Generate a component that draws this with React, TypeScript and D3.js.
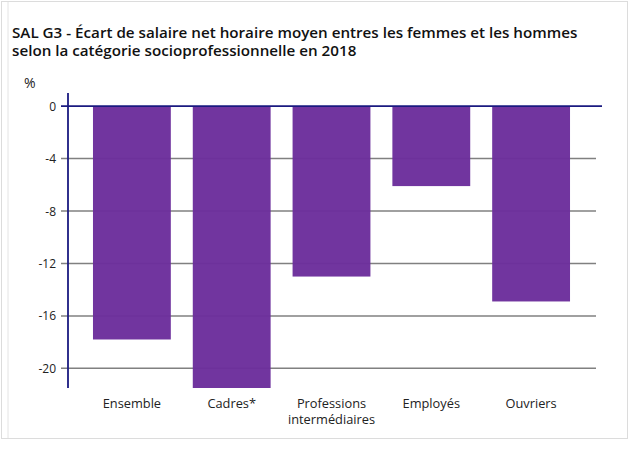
import React, { useEffect, useRef } from "react";
import * as d3 from "d3";

const categories = ["Ensemble", "Cadres*", "Professions\nintermédiaires", "Employés", "Ouvriers"];
const values = [-17.8, -21.5, -13.0, -6.1, -14.9];
const yTicks = [0, -4, -8, -12, -16, -20];
const titleLines = [
  "SAL G3 - Écart de salaire net horaire moyen entres les femmes et les hommes",
  "selon la catégorie socioprofessionnelle en 2018",
];

export default function App() {
  const svgRef = useRef<SVGSVGElement>(null);

  useEffect(() => {
    const svg = d3.select(svgRef.current);
    svg.selectAll("*").remove();

    const font = "'Open Sans', 'Noto Sans', sans-serif";

    // frame
    svg.append("rect")
      .attr("x", 1.5).attr("y", 1.5)
      .attr("width", 626).attr("height", 437)
      .attr("fill", "none")
      .attr("stroke", "#dcdcdc");
    svg.append("line")
      .attr("x1", 8).attr("x2", 8).attr("y1", 2).attr("y2", 438)
      .attr("stroke", "#e4e4e4");

    svg.append("g")
      .selectAll("text")
      .data(titleLines)
      .enter()
      .append("text")
      .attr("x", 12)
      .attr("y", (d, i) => 38 + i * 18)
      .attr("font-family", font)
      .attr("font-size", 15.2)
      .attr("font-weight", 600)
      .attr("fill", "#111")
      .text(d => d);

    const x = d3.scaleBand<string>()
      .domain(categories)
      .range([82, 581])
      .paddingInner(0.22)
      .paddingOuter(0.11);

    const y = d3.scaleLinear().domain([-21.5, 1]).range([388, 93]);

    // gridlines
    svg.append("g")
      .selectAll("line")
      .data(yTicks.filter(t => t !== 0))
      .enter()
      .append("line")
      .attr("x1", 61)
      .attr("x2", 596)
      .attr("y1", d => y(d))
      .attr("y2", d => y(d))
      .attr("stroke", "#808080")
      .attr("stroke-width", 1.5);

    // bars
    svg.append("g")
      .selectAll("rect")
      .data(values)
      .enter()
      .append("rect")
      .attr("x", (d, i) => x(categories[i])!)
      .attr("width", x.bandwidth())
      .attr("y", y(0))
      .attr("height", d => y(d) - y(0))
      .attr("fill", "#6c2e9c")
      .attr("fill-opacity", 0.97);

    // zero line
    svg.append("line")
      .attr("x1", 61).attr("x2", 602)
      .attr("y1", y(0)).attr("y2", y(0))
      .attr("stroke", "#1a1a80")
      .attr("stroke-width", 1.8);

    // y axis
    svg.append("line")
      .attr("x1", 68).attr("x2", 68)
      .attr("y1", y(1)).attr("y2", y(-21.5))
      .attr("stroke", "#1a1a80")
      .attr("stroke-width", 1.8);

    svg.append("g")
      .selectAll("text")
      .data(yTicks)
      .enter()
      .append("text")
      .attr("x", 56)
      .attr("y", d => y(d) + 4.5)
      .attr("text-anchor", "end")
      .attr("font-family", font)
      .attr("font-size", 12)
      .attr("fill", "#222")
      .text(d => d);

    svg.append("text")
      .attr("x", 24)
      .attr("y", 88)
      .attr("font-family", font)
      .attr("font-size", 14)
      .attr("fill", "#222")
      .text("%");

    // category labels
    const labels = svg.append("g")
      .selectAll("text")
      .data(categories)
      .enter()
      .append("text")
      .attr("x", d => x(d)! + x.bandwidth() / 2)
      .attr("y", 408)
      .attr("text-anchor", "middle")
      .attr("font-family", font)
      .attr("font-size", 12.8)
      .attr("fill", "#222");

    labels.selectAll("tspan")
      .data(d => d.split("\n"))
      .enter()
      .append("tspan")
      .attr("x", function () {
        return (this.parentNode as SVGTextElement).getAttribute("x");
      })
      .attr("dy", (d, i) => (i === 0 ? 0 : 15.5))
      .text(d => d);
  }, []);

  return (
    <svg
      ref={svgRef}
      width={630}
      height={460}
      style={{ position: "absolute", left: 0, top: 0, background: "#fff" }}
    />
  );
}
